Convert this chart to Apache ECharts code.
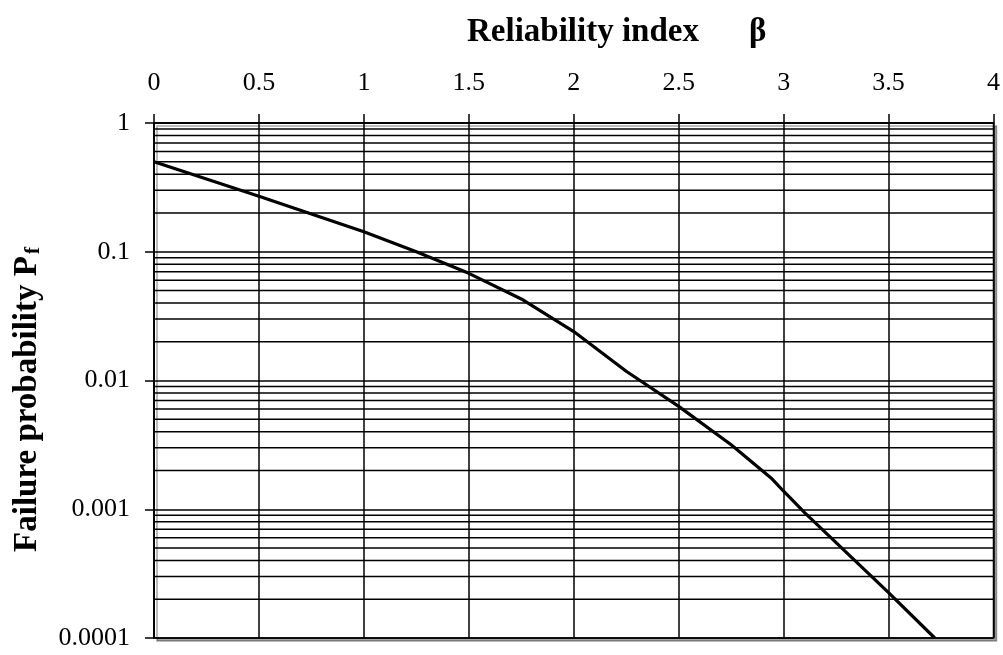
<!DOCTYPE html>
<html>
<head>
<meta charset="utf-8">
<script src="https://cdn.jsdelivr.net/npm/echarts@6/dist/echarts.min.js"></script>
<style>
html,body{margin:0;padding:0;background:#fff;}
#chart{width:1003px;height:655px;}
</style>
</head>
<body>
<div id="chart"></div>
<script>
// Data
const betaValues = [0, 0.5, 1.0, 1.25, 1.5, 1.75, 2.0, 2.25, 2.5, 2.75, 2.94, 3.0, 3.1, 3.5, 3.72];
const pfValues   = [0.5, 0.27, 0.143, 0.1, 0.068, 0.043, 0.024, 0.0118, 0.0063, 0.00317, 0.00175, 0.00138, 0.00094, 0.000225, 0.0001];
const yTickLabels = ['1', '0.1', '0.01', '0.001', '0.0001'];
const minorGridValues = [
  0.9, 0.8, 0.7, 0.6, 0.5, 0.4, 0.3, 0.2,
  0.09, 0.08, 0.07, 0.06, 0.05, 0.04, 0.03, 0.02,
  0.009, 0.008, 0.007, 0.006, 0.005, 0.004, 0.003, 0.002,
  0.0009, 0.0008, 0.0007, 0.0006, 0.0005, 0.0004, 0.0003, 0.0002
];
const xMin = 0, xMax = 4, xStep = 0.5;

const FONT = "'Liberation Serif', 'Times New Roman', serif";
const chart = echarts.init(document.getElementById('chart'), null, {renderer: 'canvas'});

const gridSeries = minorGridValues.map(v => ({
  type: 'line',
  silent: true,
  symbol: 'none',
  data: [[xMin, v], [xMax, v]],
  lineStyle: {color: '#000', width: 1.5},
  z: 1
}));

const option = {
  animation: false,
  backgroundColor: '#fff',
  title: {
    text: '{b|Reliability index}{g|β}',
    left: 462,
    top: 11,
    textStyle: {
      rich: {
        b: {fontFamily: FONT, fontWeight: 'bold', fontSize: 33, color: '#000', padding: [0, 50, 0, 0]},
        g: {fontFamily: FONT, fontSize: 33, color: '#000'}
      }
    }
  },
  grid: {
    left: 154, right: 8, top: 123, bottom: 17,
    show: true,
    backgroundColor: '#fff',
    borderColor: '#000',
    borderWidth: 1.5,
    shadowColor: 'rgba(0,0,0,0.35)',
    shadowOffsetX: 3,
    shadowOffsetY: 3,
    shadowBlur: 0
  },
  xAxis: {
    type: 'value',
    position: 'top',
    min: xMin, max: xMax, interval: xStep,
    axisLine: {show: true, lineStyle: {color: '#000', width: 1.5}},
    axisTick: {show: true, length: 9, lineStyle: {color: '#000', width: 1.5}},
    axisLabel: {fontFamily: FONT, fontSize: 26, color: '#000', margin: 27},
    splitLine: {show: true, lineStyle: {color: '#000', width: 1.5}}
  },
  yAxis: {
    type: 'log',
    logBase: 10,
    min: 0.0001, max: 1,
    axisLine: {show: true, lineStyle: {color: '#000', width: 1.5}},
    axisTick: {show: true, length: 9, lineStyle: {color: '#000', width: 1.5}},
    axisLabel: {
      fontFamily: FONT, fontSize: 26, color: '#000', margin: 24,
      formatter: function (v) {
        const i = Math.round(-Math.log10(v));
        return yTickLabels[i] !== undefined ? yTickLabels[i] : '';
      }
    },
    splitLine: {show: true, lineStyle: {color: '#000', width: 1.5}},
    name: '{a|Failure probability P}{s|f}',
    nameLocation: 'middle',
    nameRotate: 90,
    nameGap: 110,
    nameTextStyle: {
      padding: [0, 38, 0, 0],
      rich: {
        a: {fontFamily: FONT, fontWeight: 'bold', fontSize: 33, color: '#000', verticalAlign: 'bottom', lineHeight: 36},
        s: {fontFamily: FONT, fontWeight: 'bold', fontSize: 21, color: '#000', verticalAlign: 'bottom', lineHeight: 16, padding: [0, 0, 0, 2]}
      }
    }
  },
  series: gridSeries.concat([{
    type: 'line',
    data: betaValues.map((b, i) => [b, pfValues[i]]),
    showSymbol: false,
    symbol: 'none',
    lineStyle: {color: '#000', width: 3.2},
    z: 5
  }])
};
chart.setOption(option);
</script>
</body>
</html>
